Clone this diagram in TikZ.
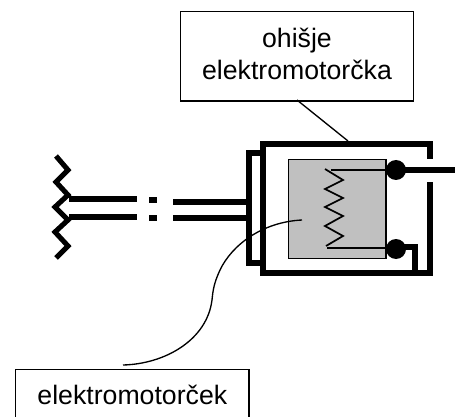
\documentclass[tikz,border=0pt]{standalone}
\usepackage{fontspec}
\setmainfont{Liberation Sans}
\usetikzlibrary{positioning,calc}
\definecolor{coilgray}{HTML}{C0C0C0}
\tikzset{
  labelbox/.style={draw,line width=1pt,align=center,font=\fontsize{20}{24}\selectfont,inner sep=0pt},
  thickwire/.style={line width=3.8pt},
  leader/.style={line width=1pt},
  terminal/.style={circle,fill=black,minimum size=15pt,inner sep=0pt}
}
\begin{document}
\begin{tikzpicture}[x=0.75pt,y=-0.75pt]
  \useasboundingbox (0,0) rectangle (464,417);
  % labels
  \node[labelbox,minimum width=174.5pt,minimum height=67pt,anchor=north west] (hous) at (180,11) {ohišje\\elektromotorčka\rule[-4.5pt]{0pt}{0pt}};
  \node[labelbox,minimum width=175pt,minimum height=38pt,anchor=north west] (motor) at (15,369) {elektromotorček};
  % motor
  \node[draw,line width=1pt,fill=coilgray,minimum width=73pt,minimum height=74pt,inner sep=0pt,anchor=north west] (core) at (288,159) {};
  \node[terminal] (ta) at (396,170) {};
  \node[terminal] (tb) at (396,249) {};
  % housing
  \draw[thickwire] (430,159) -- (430,144) -- (263,144) -- (263,273) -- (430,273) -- (430,182);
  \draw[thickwire] (263,153) -- (249,153) -- (249,263) -- (263,263);
  % coil
  \coordinate (ca) at (331,170);
  \coordinate (cb) at (327,248);
  \draw[line width=1.3pt] (ca) -- (ca -| ta.west);
  \draw[line width=1.3pt] (325,169) -- (343,180) -- (325,189) -- (343,198) -- (325,207) -- (343,216) -- (325,226) -- (343,236) -- (326,246);
  \draw[line width=1.3pt] (cb) -- (cb -| tb.west);
  % terminals
  \coordinate (tip) at (455,170);
  \coordinate (wall) at (415,272);
  \draw[thickwire] (ta.center) -- (tip);
  \draw[thickwire] (tb.center) ++(0,-2) -- (415,247) -- (wall);
  % feed lines
  \foreach \yl/\yr in {199/202,217/218}{
    \draw[thickwire] (69,\yl) -- (137,\yl);
    \draw[thickwire] (149,\yl+1) -- (157,\yl+1);
    \draw[thickwire] (173,\yr) -- (246,\yr);
  }
  \draw[thickwire] (56,156) -- (68,170) -- (56,182) -- (68,195) -- (55,207) -- (68,220) -- (55,232) -- (68,246) -- (56,258);
  % leaders
  \coordinate (housend) at (348,141);
  \coordinate (coreend) at (302,220);
  \draw[leader] (297,100) -- (housend);
  \draw[leader] (coreend) .. controls (262,222) and (232,245) .. (220,270) .. controls (214,283) and (213,290) .. (212,300) .. controls (207,340) and (165,364) .. (123,365);
\end{tikzpicture}
\end{document}
